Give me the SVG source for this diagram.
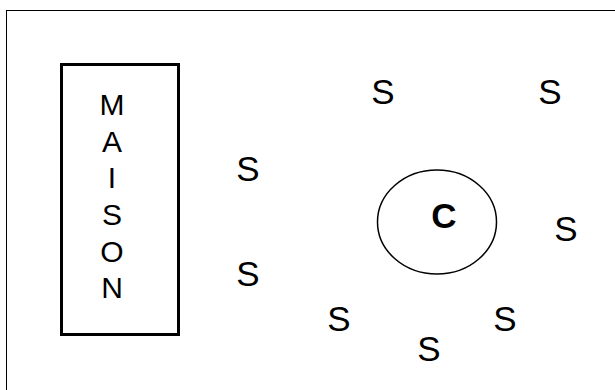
<svg xmlns="http://www.w3.org/2000/svg" width="615" height="390" viewBox="0 0 615 390">
<style>
.t{font-family:"Liberation Sans",Arial,sans-serif;fill:#000;text-anchor:middle}
.s{font-size:35px}
.m{font-size:30px}
</style>
<rect x="0" y="0" width="615" height="390" fill="#fff"/>
<rect x="6.5" y="10.5" width="700" height="500" fill="none" stroke="#000" stroke-width="1"/>
<g id="maison">
<rect x="61.5" y="64.5" width="117" height="270" fill="none" stroke="#000" stroke-width="3"/>
<text class="t m" x="112" y="115">M</text>
<text class="t m" x="112" y="152">A</text>
<text class="t m" x="112" y="188">I</text>
<text class="t m" x="112" y="225">S</text>
<text class="t m" x="112" y="262">O</text>
<text class="t m" x="112" y="298">N</text>
</g>
<g id="centre">
<ellipse cx="437" cy="222" rx="59.5" ry="52" fill="none" stroke="#000" stroke-width="1.5"/>
<text class="t s" x="444" y="228" font-weight="bold">C</text>
</g>
<g id="s1"><text class="t s" x="383" y="104">S</text></g>
<g id="s2"><text class="t s" x="550" y="104">S</text></g>
<g id="s3"><text class="t s" x="248" y="181">S</text></g>
<g id="s4"><text class="t s" x="248" y="286">S</text></g>
<g id="s5"><text class="t s" x="566" y="241">S</text></g>
<g id="s6"><text class="t s" x="339" y="331">S</text></g>
<g id="s7"><text class="t s" x="429" y="361">S</text></g>
<g id="s8"><text class="t s" x="505" y="331">S</text></g>
<g id="connectors"></g>
</svg>
